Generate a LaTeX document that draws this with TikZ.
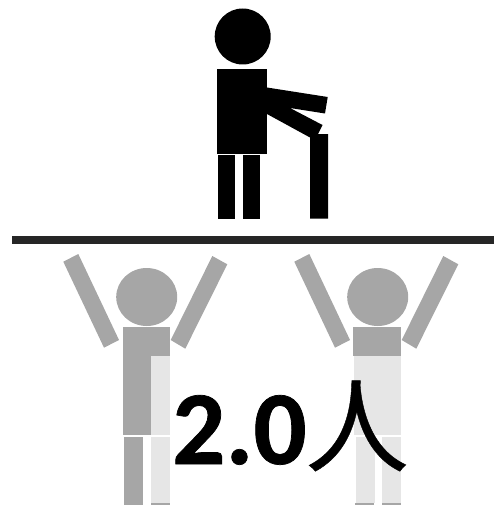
\documentclass[tikz,border=0pt]{standalone}
\usepackage{fontspec}
\setmainfont{Carlito}[BoldFeatures={FakeBold=0.7}]
\newfontfamily\cjk{Noto Sans CJK JP}[FakeBold=0.4]
\usepackage{xcolor}
\definecolor{ink}{HTML}{000000}
\definecolor{bar}{HTML}{262626}
\definecolor{midgray}{HTML}{A6A6A6}
\definecolor{pale}{HTML}{E6E6E6}
\tikzset{
  solid ink/.style={fill=ink, draw=none},
  solid gray/.style={fill=midgray, draw=none},
  solid pale/.style={fill=pale, draw=none},
}
% raised arms and head of a lower figure, shifted by #1
\newcommand{\liftarms}[1]{
  \begin{scope}[xshift=#1]
    \fill[solid gray] (146.7,297) ellipse [x radius=30.5, y radius=29];
    \fill[solid gray] (63.3,261.7) -- (78.3,254) -- (119,340) -- (104,347.7) -- cycle;
    \fill[solid gray] (212.3,256) -- (227.3,264.3) -- (185.3,348.7) -- (170.7,340) -- cycle;
  \end{scope}
}

\begin{document}
\begin{tikzpicture}[x=1pt, y=-1pt]
  \useasboundingbox (0,0) rectangle (494,508);

  % seated figure
  \fill[solid ink] (242.7,36.5) circle [radius=28];
  \fill[solid ink] (217,69) rectangle (267,153.7);
  \fill[solid ink] (218,155) rectangle (235,219);
  \fill[solid ink] (243,155) rectangle (260,219);
  \fill[solid ink] (267,87.5) -- (327.7,97) -- (325,113.5) -- (290,108) -- (322.5,125)
    -- (318,134) -- (328,134) -- (328,218.5) -- (310,218.5) -- (310,137.5) -- (267,114) -- cycle;

  % floor
  \fill[bar] (12,236) rectangle (494,244);

  % lower figures
  \liftarms{0pt}
  \liftarms{231pt}

  % left one
  \fill[solid gray] (123,326.7) rectangle (170,356);
  \fill[solid gray] (123,356) rectangle (151,434.7);
  \fill[solid pale] (151,356) rectangle (169.5,434.7);
  \fill[solid gray] (124,436.5) rectangle (143,505);
  \fill[solid pale] (151,436.5) rectangle (169.7,503);
  \fill[solid gray] (151,503) rectangle (169.7,505);

  % right one
  \fill[solid gray] (353,326.7) rectangle (401,356);
  \fill[solid pale] (354,356) rectangle (401,434.7);
  \fill[solid pale] (356,436.5) rectangle (374.5,503);
  \fill[solid pale] (382.3,436.5) rectangle (401,503);
  \fill[solid gray] (355,503) rectangle (374,505);
  \fill[solid gray] (382,503) rectangle (401,505);

  \node[anchor=base west, inner sep=0pt, text=ink] (count) at (172,464)
    {\fontsize{105}{105}\selectfont\bfseries 2.0\hspace{-1pt}{\cjk\mdseries\fontsize{103}{103}\selectfont 人}};
\end{tikzpicture}
\end{document}
